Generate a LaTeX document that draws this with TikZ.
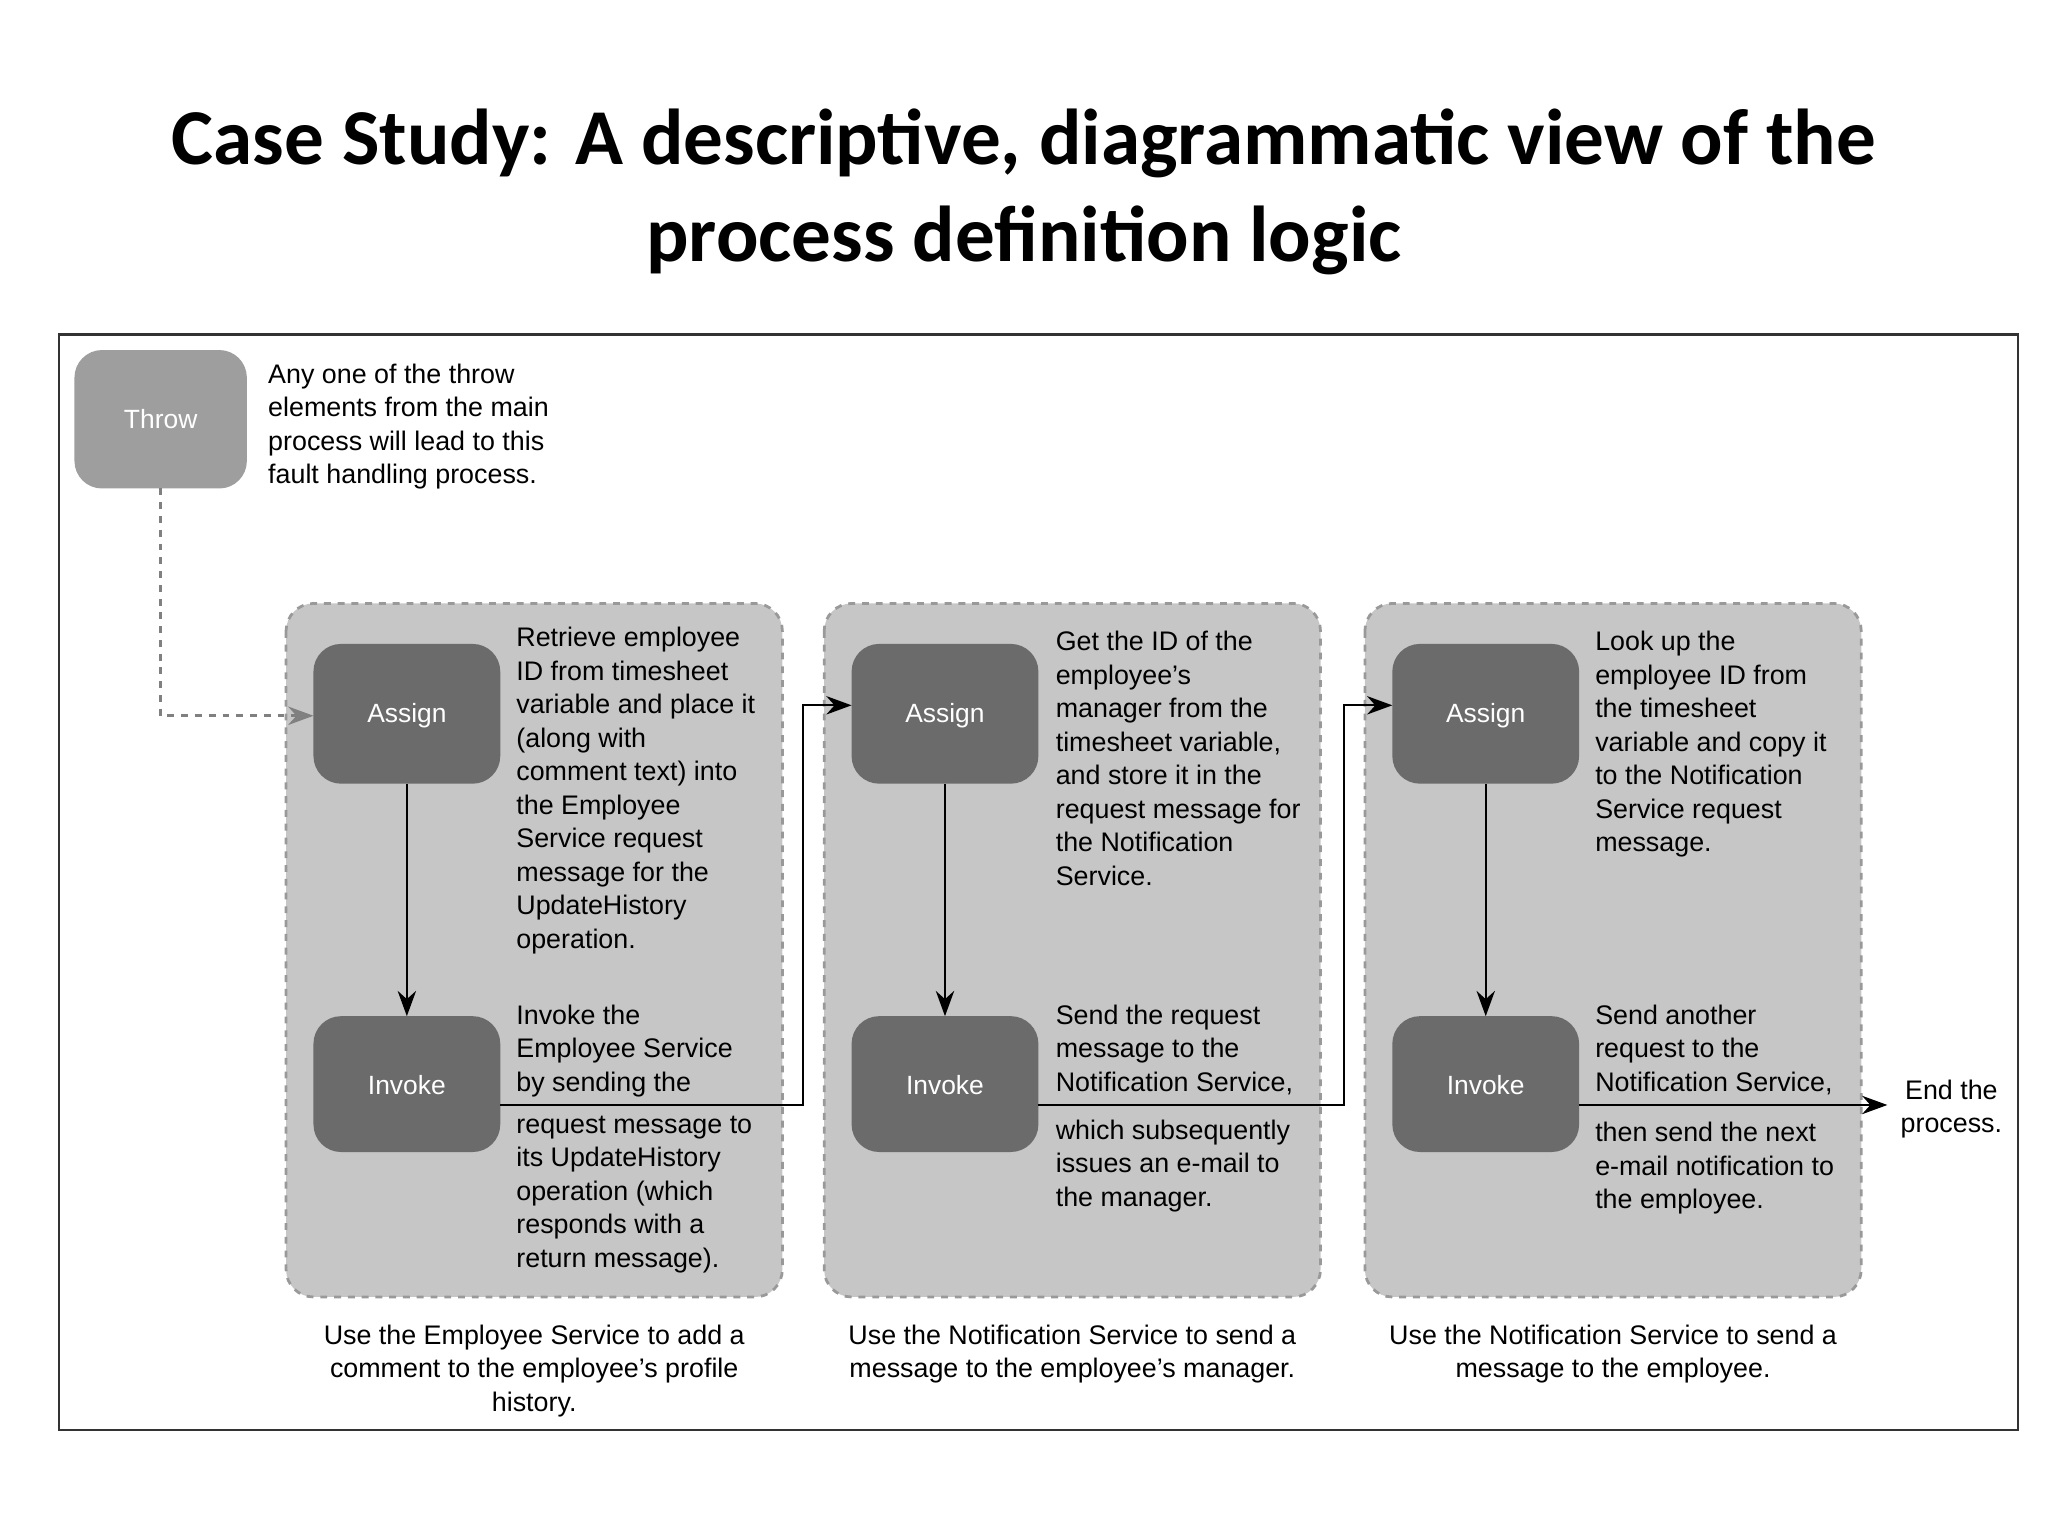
\documentclass[tikz,border=0pt]{standalone}
\usepackage{fontspec}
\setmainfont{Liberation Sans}
\newfontfamily\titlefont{Carlito}
\usetikzlibrary{arrows.meta}
\begin{document}
\begin{tikzpicture}[x=0.02cm,y=-0.02cm,
  txt/.style={anchor=north west,inner sep=0,align=left,font=\fontsize{11.7}{14.6}\selectfont},
  captxt/.style={anchor=north,inner sep=0,align=center,font=\fontsize{11.7}{14.6}\selectfont},
  panel/.style={draw=gray!80,dashed,line width=1.2pt,fill=gray!45,rounded corners=12pt},
  arr/.style={-{Stealth[length=11pt,width=8pt]},line width=1pt}]
\useasboundingbox (0,0) rectangle (1568,1176);
\node[font=\titlefont\bfseries\fontsize{34.5}{42}\selectfont,align=center] (title) at (784,147) {Case Study: A descriptive, diagrammatic view of the\\process definition logic};
\draw[line width=1pt,black!80] (45,256) rectangle (1545,1095);
% Throw
\path[fill=black!38,rounded corners=12pt] (57,268) rectangle (189,374);
\node[text=white,font=\fontsize{11.5}{14}\selectfont] (throw) at (123,321) {Throw};
\coordinate (tb) at (123,374);
\node[txt] (tt) at (205,278) {Any one of the throw\\elements from the main\\process will lead to this\\fault handling process.};
% panels
\foreach \x in {219,631,1045}{\path[panel] (\x,462) rectangle (\x+380,993);}
\foreach \x/\n in {240/1,652/2,1066/3}{
  \path[fill=black!58,rounded corners=12pt] (\x,493) rectangle (\x+143,600);
  \node[text=white,font=\fontsize{11.5}{14}\selectfont] (a\n) at (\x+71.5,548) {Assign};
  \coordinate (ab\n) at (\x+71.5,600);
  \coordinate (al\n) at (\x,540);
  \path[fill=black!58,rounded corners=12pt] (\x,778) rectangle (\x+143,882);
  \node[text=white,font=\fontsize{11.5}{14}\selectfont] (i\n) at (\x+71.5,831) {Invoke};
  \coordinate (it\n) at (\x+71.5,778);
  \coordinate (ir\n) at (\x+143,846);
  \draw[arr] (ab\n) -- (it\n);
}
\coordinate (al1) at (240,548);
\draw[arr,dashed,gray,line width=1.2pt] (tb) |- (al1);
\draw[arr] (ir1) -| (615,540) -- (al2);
\draw[arr] (ir2) -| (1029,540) -- (al3);
\coordinate (endpt) at (1445,846);
\draw[arr] (ir3) -- (endpt);
\node[align=center,font=\fontsize{11.7}{14.6}\selectfont] (endt) at (1494,849) {End the\\process.};
% texts
\node[txt] at (395,480) {Retrieve employee\\ID from timesheet\\variable and place it\\(along with\\comment text) into\\the Employee\\Service request\\message for the\\UpdateHistory\\operation.};
\node[txt] at (395,769) {Invoke the\\Employee Service\\by sending the};
\node[txt] at (395,854) {request message to\\its UpdateHistory\\operation (which\\responds with a\\return message).};
\node[txt] at (808,483) {Get the ID of the\\employee's\\manager from the\\timesheet variable,\\and store it in the\\request message for\\the Notification\\Service.};
\node[txt] at (808,769) {Send the request\\message to the\\Notification Service,};
\node[txt] at (808,857) {which subsequently\\issues an e-mail to\\the manager.};
\node[txt] at (1221,483) {Look up the\\employee ID from\\the timesheet\\variable and copy it\\to the Notification\\Service request\\message.};
\node[txt] at (1221,769) {Send another\\request to the\\Notification Service,};
\node[txt] at (1221,859) {then send the next\\e-mail notification to\\the employee.};
\node[captxt] at (409,1014) {Use the Employee Service to add a\\comment to the employee's profile\\history.};
\node[captxt] at (821,1014) {Use the Notification Service to send a\\message to the employee's manager.};
\node[captxt] at (1235,1014) {Use the Notification Service to send a\\message to the employee.};
\end{tikzpicture}
\end{document}
